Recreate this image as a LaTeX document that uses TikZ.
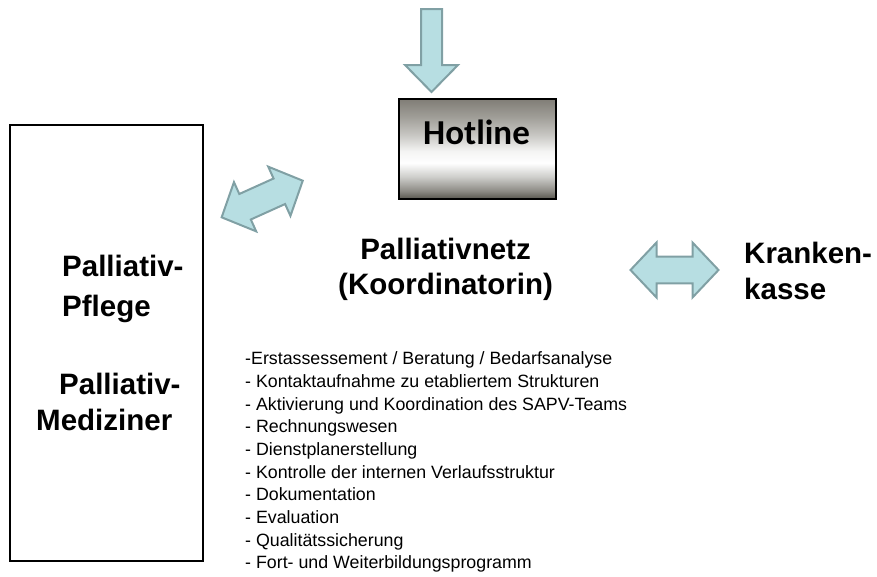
\documentclass[tikz,border=0pt]{standalone}
\usepackage{fontspec}
\setmainfont{Liberation Sans}
\newfontfamily\calib{Carlito}
\definecolor{arrfill}{RGB}{183,222,226}
\definecolor{arrline}{RGB}{128,160,164}
\definecolor{hbot}{RGB}{88,86,78}
\definecolor{hg1}{RGB}{140,138,132}
\definecolor{hg2}{RGB}{205,205,202}
\definecolor{hg3}{RGB}{244,244,243}
\definecolor{hg4}{RGB}{200,199,195}
\definecolor{hg5}{RGB}{160,158,152}
\definecolor{htop}{RGB}{128,125,118}
\pgfdeclareverticalshading{hotshade}{100bp}{color(0bp)=(hbot); color(25bp)=(hbot); color(29bp)=(hg1); color(36bp)=(hg2); color(43bp)=(white); color(49bp)=(hg3); color(57bp)=(hg4); color(66bp)=(hg5); color(75bp)=(htop); color(100bp)=(htop)}
\tikzset{
  fatarrow/.style={fill=arrfill, draw=arrline, line width=2pt, line join=miter},
  bigtext/.style={inner sep=0pt, font=\bfseries\fontsize{29.5}{36}\selectfont},
  listtext/.style={inner sep=0pt, align=left, font=\fontsize{17.8}{22.7}\selectfont},
  hotbox/.style={draw=black, line width=2.5pt, shading=hotshade, minimum width=157pt, minimum height=100pt, inner sep=0pt},
  sidebox/.style={draw=black, line width=2.5pt, minimum width=193pt, minimum height=436pt, inner sep=0pt}
}
\begin{document}
\begin{tikzpicture}[x=1pt,y=-1pt]
\useasboundingbox (0,0) rectangle (877,576);
% left box
\node[sidebox] (side) at (106.5,343) {};
% hotline box
\node[hotbox] (hotline) at (477.5,149) {};
\node[inner sep=0pt, anchor=base west, font=\calib\bfseries\fontsize{35}{40}\selectfont] (hottext) at (423,144) {Hotline};
% down arrow
\draw[fatarrow] (421,9) -- (442,9) -- (442,65) -- (458,65) -- (431.5,92) -- (405,65) -- (421,65) -- cycle;
% diagonal double arrow
\begin{scope}[shift={(262.2,199)}, rotate=24.3]
\draw[fatarrow] (-44.5,0) -- (-18.8,-27) -- (-18.8,-14) -- (18.8,-14) -- (18.8,-27) -- (44.5,0) -- (18.8,27) -- (18.8,14) -- (-18.8,14) -- (-18.8,27) -- cycle;
\end{scope}
% horizontal double arrow
\begin{scope}[shift={(674.5,270)}]
\draw[fatarrow] (-44,0) -- (-18,-27.5) -- (-18,-13.3) -- (18,-13.3) -- (18,-27.5) -- (44,0) -- (18,27.5) -- (18,13.3) -- (-18,13.3) -- (-18,27.5) -- cycle;
\end{scope}
% texts
\node[bigtext, align=left, anchor=north west, font=\bfseries\fontsize{29.5}{40}\selectfont] (pflege) at (62,254.5) {Palliativ-\\Pflege};
\node[bigtext, align=left, anchor=north west] (mediziner) at (36,372.5) {\hspace*{23pt}Palliativ-\\Mediziner};
\node[bigtext, align=center, anchor=north, font=\bfseries\fontsize{29.5}{35.5}\selectfont] (netz) at (445.5,237.5) {Palliativnetz\\(Koordinatorin)};
\node[bigtext, align=left, anchor=north west] (kasse) at (744,241.5) {Kranken-\\kasse};
\node[listtext, anchor=north west] (tasks) at (245,351.5) {-Erstassessement / Beratung / Bedarfsanalyse\\
- Kontaktaufnahme zu etabliertem Strukturen\\
- Aktivierung und Koordination des SAPV-Teams\\
- Rechnungswesen\\
- Dienstplanerstellung\\
- Kontrolle der internen Verlaufsstruktur\\
- Dokumentation\\
- Evaluation\\
- Qualitätssicherung\\
- Fort- und Weiterbildungsprogramm};
\end{tikzpicture}
\end{document}
